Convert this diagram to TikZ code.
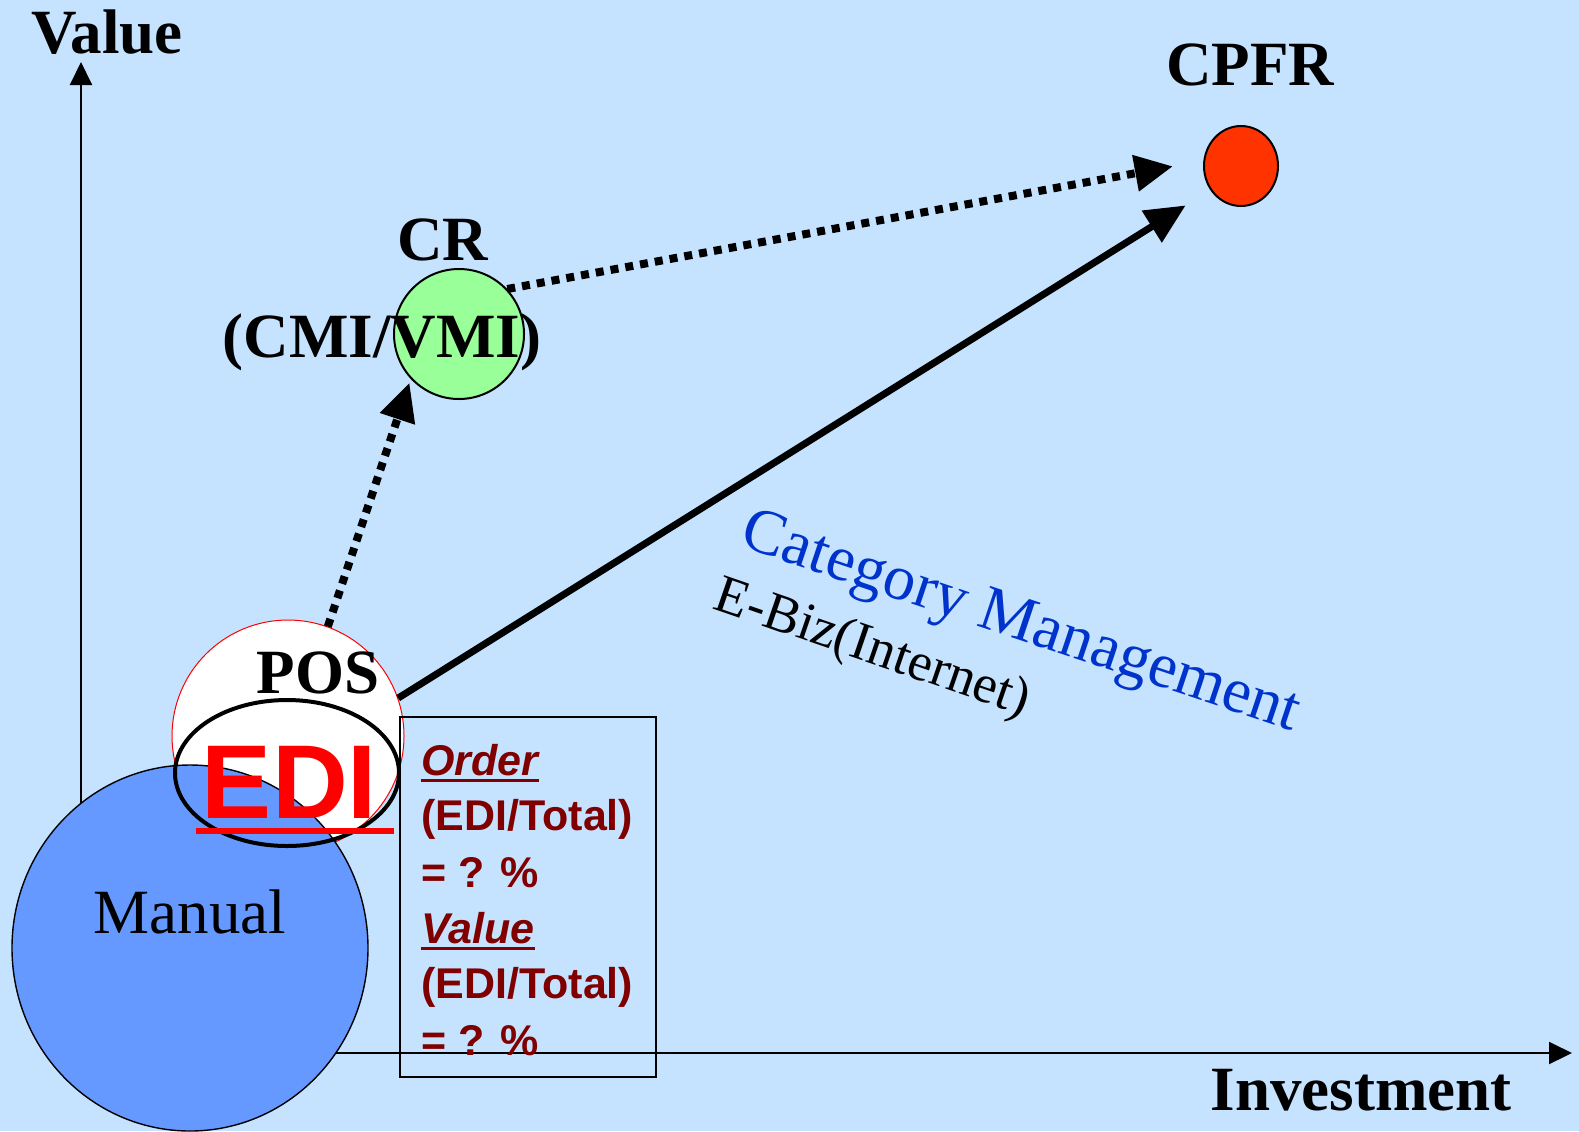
\documentclass[tikz,border=0pt]{standalone}
\usepackage{fontspec}
\setmainfont{Liberation Serif}
\setsansfont{Liberation Sans}
\usetikzlibrary{arrows.meta,shapes.geometric,calc}
\definecolor{fond}{RGB}{197,227,255}
\definecolor{bleumanuel}{RGB}{102,153,255}
\definecolor{vertcr}{RGB}{153,255,153}
\definecolor{rougecpfr}{RGB}{255,51,0}
\definecolor{rougefonce}{RGB}{128,0,0}
\definecolor{bleucat}{RGB}{0,51,204}
\tikzset{
    titre/.style={font=\fontsize{31.5}{36}\selectfont\bfseries, inner sep=0pt, anchor=base},
    ratio/.style={font=\fontsize{21.5}{25}\selectfont\sffamily\bfseries, text=rougefonce, inner sep=0pt, anchor=base west},
    axe/.style={line width=1pt, -{Triangle[length=11.5pt,width=11pt]}},
    pointille/.style={line width=4pt, dash pattern=on 4pt off 3.5pt, -{Triangle[length=19pt,width=17.5pt]}},
    plein/.style={line width=3.5pt, -{Triangle[length=20pt,width=18pt]}},
    souligne/.style={rougefonce, line width=1.5pt},
  }

\begin{document}
\begin{tikzpicture}[x=0.5pt,y=-0.5pt]
          %fond et cadre
          \fill[fond] (0,0) rectangle (1579,1131);
          \useasboundingbox (0,0) rectangle (1579,1131);
          %axes
          \coordinate (O) at (81,1053);
          \coordinate (haut) at (81,62);
          \coordinate (droite) at (1572,1053);
          \draw[axe] (O) -- (haut);
          \draw[axe] (O) -- (droite);
          \node[titre] (value) at (107,53) {Value};
          \node[titre] (invest) at (1361,1110) {Investment};
          %cercles
          \node[circle, draw=red, line width=0.5pt, fill=white, minimum size=116pt, inner sep=0pt] (pos) at (288,736) {};
          \node[ellipse, draw, line width=0.7pt, fill=bleumanuel, minimum width=178pt, minimum height=183pt, inner sep=0pt] (manual) at (190,948) {};
          \node[ellipse, draw, line width=2pt, minimum width=112pt, minimum height=73pt, inner sep=0pt] (edi) at (287,773) {};
          \node[circle, draw, line width=1pt, fill=vertcr, minimum size=65pt, inner sep=0pt] (cr) at (459,334) {};
          \node[ellipse, draw, line width=1pt, fill=rougecpfr, minimum width=37pt, minimum height=40pt, inner sep=0pt] (cpfr) at (1241,166) {};
          %fleches
          \draw[pointille, shorten >=2pt] (pos.70) -- (cr.223);
          \draw[pointille, shorten >=15.5pt] (cr.43) -- (cpfr.172);
          \draw[plein, shorten >=14.5pt] (pos.19) -- (cpfr.218);
          %textes
          \node[titre] (tpos) at (318,693) {POS};
          \node[titre, font=\fontsize{31.5}{36}\selectfont] (tmanual) at (190,933) {Manual};
          \node[titre] (tcr) at (443,260) {CR};
          \node[titre] (tcmi) at (382,357) {(CMI/VMI)};
          \node[titre] (tcpfr) at (1250,85) {CPFR};
          \node[anchor=base, inner sep=0pt, text=red, font=\fontsize{52.5}{60}\selectfont\sffamily\bfseries] (tedi) at (289.5,818) {EDI};
          \draw[red, line width=3pt] ([xshift=-3pt,yshift=-6.5pt]tedi.base west) -- ([xshift=8.5pt,yshift=-6.5pt]tedi.base east);
          \node[rotate=-18.5, text=bleucat, font=\fontsize{32}{37}\selectfont] (catman) at (1020,625) {Category Management};
          \node[rotate=-19, font=\fontsize{27}{31}\selectfont] (ebiz) at (872,650) {E-Biz(Internet)};
          %encadre
          \draw[line width=1pt] (400,717) rectangle (656,1077);
          \node[ratio] (order) at (421,775) {\itshape Order};
          \draw[souligne] ([yshift=-2.5pt]order.base west) -- ([yshift=-2.5pt]order.base east);
          \node[ratio] (r1) at (421,830) {(EDI/Total)};
          \node[ratio] (p1) at (421,887) {= ? \%};
          \node[ratio] (valeur) at (421,943) {\itshape Value};
          \draw[souligne] ([yshift=-2.5pt]valeur.base west) -- ([yshift=-2.5pt]valeur.base east);
          \node[ratio] (r2) at (421,998) {(EDI/Total)};
          \node[ratio] (p2) at (421,1055) {= ? \%};
\end{tikzpicture}
\end{document}
